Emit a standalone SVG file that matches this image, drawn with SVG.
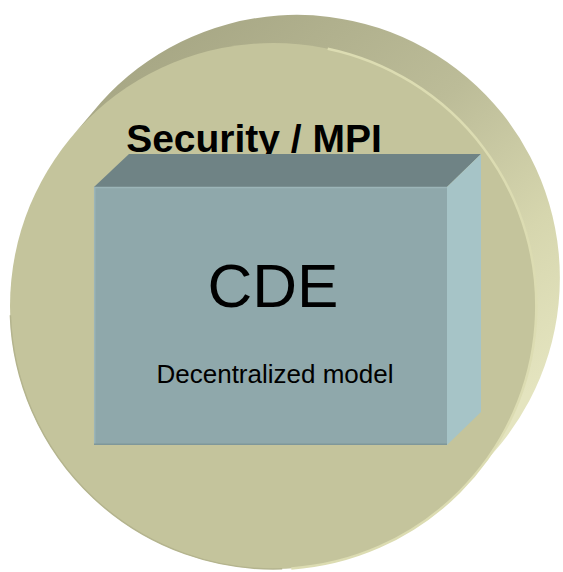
<svg xmlns="http://www.w3.org/2000/svg" width="563" height="572" viewBox="0 0 563 572">
  <defs>
    <linearGradient id="sideGrad" x1="0.2" y1="0" x2="0.9" y2="0.85">
      <stop offset="0" stop-color="#a6a684"/>
      <stop offset="0.45" stop-color="#bcbc98"/>
      <stop offset="0.75" stop-color="#d6d6ae"/>
      <stop offset="1" stop-color="#e4e4bf"/>
    </linearGradient>
    <style>
      .title { font-family: "Liberation Sans", Arial, sans-serif; font-weight: bold; fill: #000; }
      .label { font-family: "Liberation Sans", Arial, sans-serif; fill: #000; }
    </style>
  </defs>
  <rect width="563" height="572" fill="#ffffff"/>
  <g id="security-mpi">
    <path d="M 72.6 135.8 L 100.6 102.8 A 263 263 0 0 1 501.4 443.2 L 473.4 476.2 A 263 263 0 0 0 72.6 135.8 Z" fill="url(#sideGrad)"/>
    <circle cx="273" cy="306" r="263" fill="#c4c49c"/>
    <path d="M 327.7 48.7 A 263 263 0 0 1 291.3 568.4" fill="none" stroke="#dcdcb2" stroke-width="2.5"/>
    <path d="M 10.4 315.2 A 263 263 0 0 0 282.2 568.8" fill="none" stroke="#b4b48e" stroke-width="1.5"/>
    <text class="title" x="254" y="152" font-size="39" text-anchor="middle">Security / MPI</text>
  </g>
  <g id="cde">
    <polygon points="94,187 129,154 481,154 447,187" fill="#6f8385"/>
    <polygon points="447,187 481,154 481,412 447,445" fill="#a6c4c7"/>
    <rect x="94" y="187" width="353" height="258" fill="#8fa8ab"/>
    <line x1="94" y1="187.5" x2="447" y2="187.5" stroke="#9cb5b8" stroke-width="1.5"/>
    <line x1="94.7" y1="187" x2="94.7" y2="445" stroke="#9cb5b8" stroke-width="1.5"/>
    <line x1="94" y1="444.3" x2="447" y2="444.3" stroke="#7f979a" stroke-width="1.5"/>
    <text class="label" x="273" y="307" font-size="62" text-anchor="middle">CDE</text>
    <text class="label" x="275" y="383" font-size="26" text-anchor="middle">Decentralized model</text>
  </g>
  <g id="connectors"/>
</svg>
